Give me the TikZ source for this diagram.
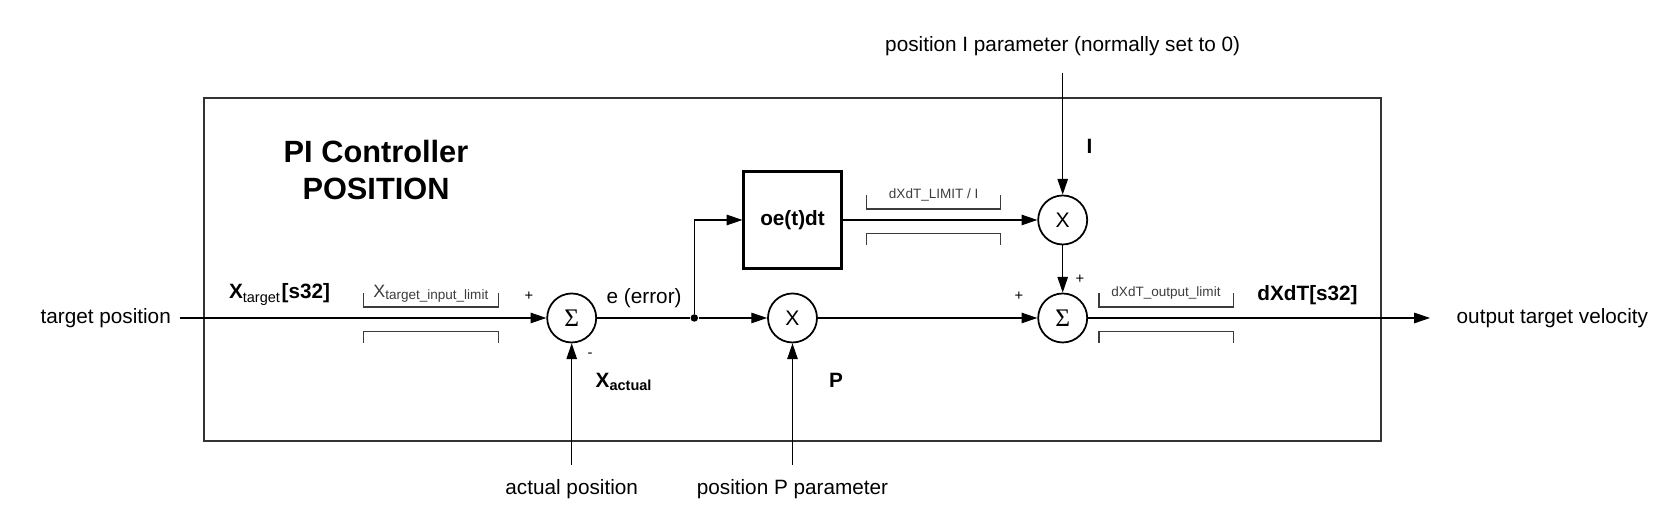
\documentclass[tikz,border=0pt]{standalone}
\usepackage{fontspec}
\setmainfont{Liberation Sans}
\newfontfamily\greekserif{Liberation Serif}
\usetikzlibrary{arrows.meta}
\definecolor{ink}{HTML}{000000}
\definecolor{frameink}{HTML}{333333}
\definecolor{limitink}{HTML}{3C3C3C}

\tikzset{
  wire/.style={draw=ink, line width=0.3pt},
  conn/.style={wire, -{Triangle[length=4.5pt,width=3pt]}},
  opnode/.style={circle, draw=ink, line width=0.5pt, minimum size=0.49cm, inner sep=0pt},
  sumnode/.style={opnode, font=\fontsize{7.2}{8}\selectfont\greekserif},
  mulnode/.style={opnode, font=\fontsize{6}{7}\selectfont},
  intbox/.style={draw=ink, line width=0.6pt, minimum width=0.98cm, minimum height=0.97cm, inner sep=0pt, font=\fontsize{5.9}{7}\selectfont\bfseries},
  lbl/.style={inner sep=0pt, font=\fontsize{5.9}{7}\selectfont},
  boldlbl/.style={inner sep=0pt, font=\fontsize{5.9}{7}\selectfont\bfseries},
  smalllbl/.style={inner sep=0pt, text=limitink, font=\fontsize{3.85}{4.5}\selectfont},
  signlbl/.style={inner sep=0pt, font=\fontsize{4.2}{5}\selectfont},
  titlelbl/.style={inner sep=0pt, align=center, font=\fontsize{8.75}{10.4}\selectfont\bfseries},
  limitbar/.style={draw=limitink, line width=0.3pt},
}

\begin{document}
\begin{tikzpicture}[x=1cm,y=1cm]
\useasboundingbox (0,0) rectangle (16.79,5.18);
% controller frame
\draw[draw=frameink, line width=0.6pt] (2.043,0.773) rectangle (13.81,4.203);
\node[titlelbl] (title) at (3.76,3.48) {PI Controller\\POSITION};

% blocks on the signal path
\node[lbl, inner xsep=0.08cm] (tgtpos) at (1.057,2.0) {target position};
\node[sumnode] (sumerr) at (5.717,2.0) {Σ};
\node[circle, fill=ink, inner sep=0pt, minimum size=0.075cm] (split) at (6.943,2.0) {};
\node[mulnode] (mulP) at (7.925,2.0) {X};
\node[intbox] (integ) at (7.925,2.98) {oe(t)dt};
\node[mulnode] (mulI) at (10.627,2.98) {X};
\node[sumnode] (sumout) at (10.627,2.0) {Σ};
\node[lbl, anchor=west, inner xsep=0.26cm] (outvel) at (14.30,2.0) {output target velocity};

% outside inputs
\node[lbl, anchor=north, inner ysep=0.135cm] (actpos) at (5.717,0.53) {actual position};
\node[lbl, anchor=north, inner ysep=0.135cm] (parP) at (7.925,0.53) {position P parameter};
\node[lbl, anchor=south, inner ysep=0.17cm] (parI) at (10.627,4.447) {position I parameter (normally set to 0)};

% connectors
\draw[conn] (tgtpos) -- (sumerr);
\draw[wire] (sumerr) -- (split);
\draw[conn] (split) -- (mulP);
\draw[conn] (split) |- (integ);
\draw[conn] (integ) -- (mulI);
\draw[conn] (mulP) -- (sumout);
\draw[conn] (mulI) -- (sumout);
\draw[conn] (sumout) -- (outvel);
\draw[conn] (actpos) -- (sumerr);
\draw[conn] (parP) -- (mulP);
\draw[conn] (parI) -- (mulI);

% signal names
\node[boldlbl, anchor=base west] (xtgt) at (2.283,2.19) {X\textsubscript{\mdseries target}[s32]};
\node[boldlbl, anchor=base west] (xact) at (5.95,1.306) {X\textsubscript{actual}};
\node[boldlbl, anchor=base west] (gainP) at (8.283,1.306) {P};
\node[boldlbl, anchor=base west] (gainI) at (10.86,3.649) {I};
\node[boldlbl, anchor=base west] (dxdt) at (12.567,2.173) {dXdT[s32]};
\node[lbl, anchor=base west] (err) at (6.06,2.143) {e (error)};

% signs
\node[signlbl] (plusA) at (5.29,2.213) {+};
\node[signlbl] (minusA) at (5.90,1.63) {-};
\node[signlbl] (plusB) at (10.19,2.213) {+};
\node[signlbl] (plusC) at (10.80,2.387) {+};

% limiters
\foreach \xa/\xb/\yc in {3.633/4.983/2.0, 8.667/10.007/2.98, 10.99/12.333/2.0}{
  \draw[limitbar] (\xa,\yc+0.245) -- (\xa,\yc+0.11) -- (\xb,\yc+0.11) -- (\xb,\yc+0.245);
  \draw[limitbar] (\xa,\yc-0.25) -- (\xa,\yc-0.135) -- (\xb,\yc-0.135) -- (\xb,\yc-0.25);
}
\node[smalllbl, anchor=base] (limin) at (4.308,2.20) {\fontsize{5.1}{6}\selectfont X\raisebox{-0.5pt}{\fontsize{3.85}{4.5}\selectfont target\_input\_limit}};
\node[smalllbl, anchor=base] (limint) at (9.337,3.195) {dXdT\_LIMIT / I};
\node[smalllbl, anchor=base] (limout) at (11.66,2.215) {dXdT\_output\_limit};
\end{tikzpicture}
\end{document}
